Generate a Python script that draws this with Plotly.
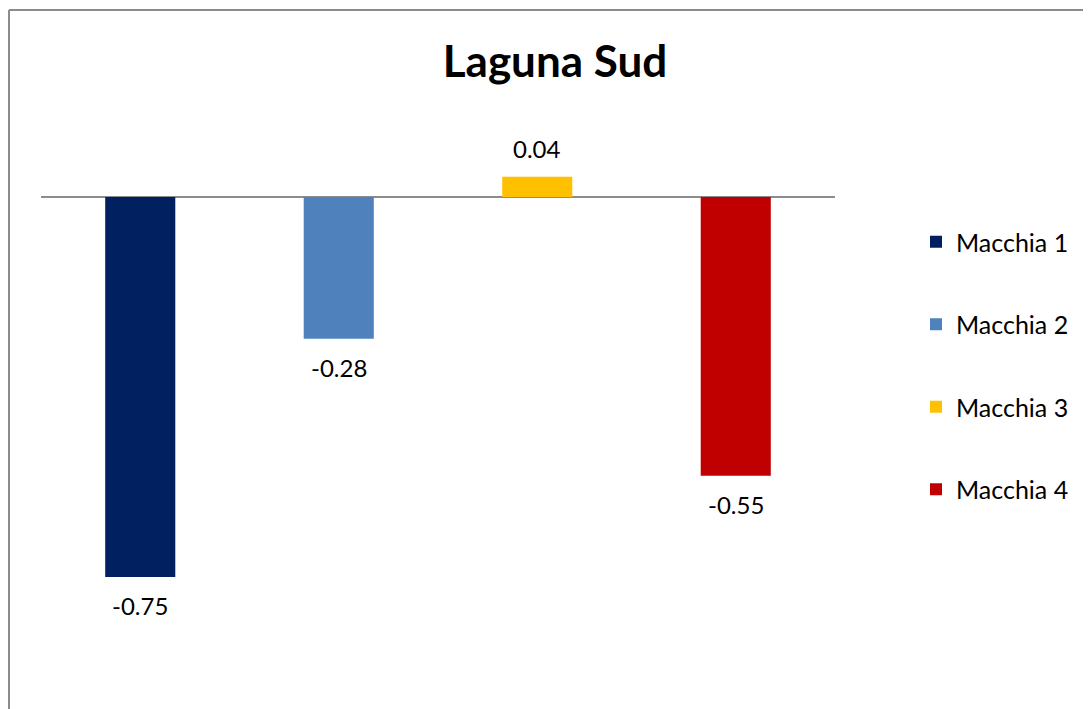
import plotly.graph_objects as go

# ---------------------------------------------------------------------------
# Data
# ---------------------------------------------------------------------------
series = ["Macchia 1", "Macchia 2", "Macchia 3", "Macchia 4"]
values = [-0.75, -0.28, 0.04, -0.55]
labels = ["-0.75", "-0.28", "0.04", "-0.55"]
colors = ["#002060", "#4F81BD", "#FFC000", "#C00000"]

FONT = "Lato"
W, H = 1091, 709
OFF = 8  # page body margin: figure sits 8px right/down of the window corner
ML, MR, MT, MB = 41 - OFF, 256 + OFF, 110 - OFF, 49 + OFF
PW, PH = W - ML - MR, H - MT - MB


def px_x(p):
    # page pixel -> paper x
    return (p - OFF - ML) / PW


def px_y(p):
    # page pixel -> paper y
    return (H - MB - (p - OFF)) / PH


fig = go.Figure()
for name, v, c in zip(series, values, colors):
    fig.add_trace(go.Bar(
        x=[name], y=[v], name=name, legendgroup=name,
        marker=dict(color=c, line=dict(width=0)),
        width=0.353,
    ))

# data labels, a bit further from the bar ends than plotly's outside text
for name, v, t in zip(series, values, labels):
    fig.add_annotation(
        x=name, y=v, text=t, showarrow=False,
        yanchor="top" if v < 0 else "bottom",
        yshift=-12 if v < 0 else 12,
        font=dict(family=FONT, size=24, color="#000000"),
    )

# chart-area frame (left and top edges only visible)
frame = dict(color="#8c8c8c", width=2)
fig.add_shape(type="line", xref="paper", yref="paper",
              x0=px_x(OFF + 1), x1=px_x(OFF + 1), y0=px_y(10), y1=px_y(720),
              line=frame)
fig.add_shape(type="line", xref="paper", yref="paper",
              x0=px_x(OFF + 1), x1=px_x(1100), y0=px_y(10), y1=px_y(10),
              line=frame)

fig.update_layout(
    width=W, height=H,
    margin=dict(l=ML, r=MR, t=MT, b=MB),
    paper_bgcolor="white", plot_bgcolor="white",
    barmode="overlay",
    title=dict(text="<b>Laguna Sud</b>", x=(555 - OFF) / W, xref="container",
               xanchor="center", y=1 - (62 - OFF) / H, yref="container",
               yanchor="middle",
               font=dict(family=FONT, size=44, color="#000000")),
    xaxis=dict(visible=False, range=[-0.5, 3.5]),
    yaxis=dict(range=[-0.9138, 0.1717], showticklabels=False, ticks="",
               showgrid=False, zeroline=True, zerolinecolor="#8c8c8c",
               zerolinewidth=2, showline=False),
    showlegend=True,
    legend=dict(x=px_x(916), xanchor="left", y=px_y(219), yanchor="top",
                font=dict(family=FONT, size=25, color="#000000"),
                tracegroupgap=47, bgcolor="rgba(0,0,0,0)"),
    font=dict(family=FONT),
)

fig.write_html("out.html")
